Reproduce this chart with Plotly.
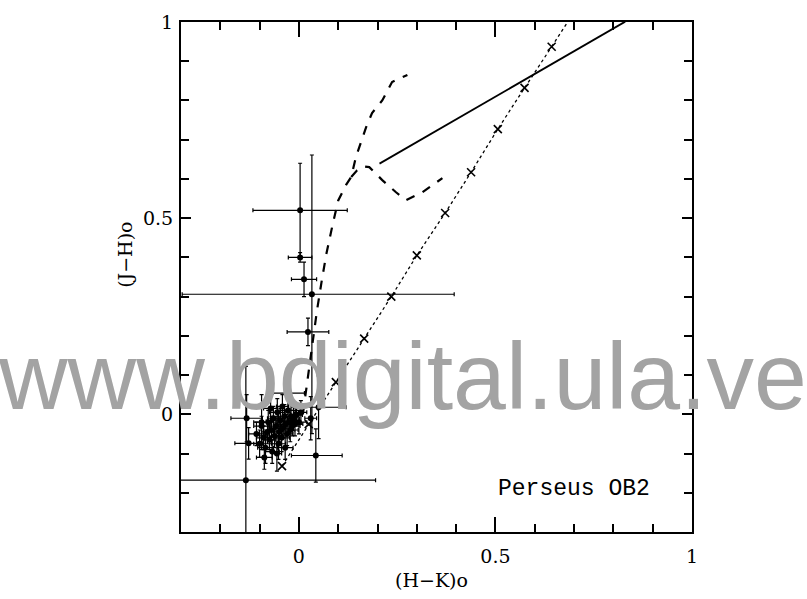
import plotly.graph_objects as go

# --- Stars with photometric errors: (H-K)o, (J-H)o and asymmetric error bars ---
hk = [0.003, 0.003, 0.013, 0.033, 0.023, -0.026, -0.135, -0.133, -0.128, 0.050, 0.043,
      -0.108, -0.100, -0.095, -0.090, -0.085, -0.080, -0.078, -0.075, -0.070, -0.068,
      -0.065, -0.062, -0.058, -0.055, -0.052, -0.050, -0.047, -0.044, -0.042, -0.040,
      -0.037, -0.035, -0.033, -0.030, -0.028, -0.025, -0.022, -0.020, -0.017, -0.014,
      -0.010, -0.006, 0.000, -0.056, 0.030, -0.095, 0.005, -0.088, -0.072]
jh = [0.520, 0.400, 0.344, 0.306, 0.210, 0.054, -0.168, -0.010, -0.074, 0.018, -0.105,
      -0.050, -0.075, -0.030, -0.060, -0.085, -0.045, -0.020, -0.065, -0.040, -0.095,
      -0.010, -0.055, -0.030, 0.005, -0.075, -0.045, -0.015, -0.060, 0.020, -0.035,
      -0.005, -0.085, -0.025, -0.050, 0.010, -0.020, -0.040, -0.005, -0.030, -0.012,
      -0.025, -0.002, -0.020, -0.100, -0.010, -0.020, 0.005, -0.110, 0.015]
hk_err_minus = [0.120, 0.030, 0.032, 0.330, 0.053, 0.040, 0.200, 0.040, 0.035, 0.060, 0.062,
                0.020, 0.015, 0.020, 0.018, 0.020, 0.015, 0.020, 0.015, 0.020, 0.018,
                0.015, 0.020, 0.015, 0.020, 0.018, 0.015, 0.020, 0.020, 0.015, 0.020,
                0.015, 0.020, 0.020, 0.015, 0.020, 0.015, 0.020, 0.015, 0.020, 0.015,
                0.020, 0.015, 0.020, 0.012, 0.015, 0.020, 0.015, 0.020, 0.018]
hk_err_plus = [0.120, 0.030, 0.032, 0.362, 0.053, 0.040, 0.330, 0.040, 0.035, 0.070, 0.067,
               0.020, 0.015, 0.020, 0.018, 0.020, 0.015, 0.020, 0.015, 0.020, 0.018,
               0.015, 0.020, 0.015, 0.020, 0.018, 0.015, 0.020, 0.020, 0.015, 0.020,
               0.015, 0.020, 0.020, 0.015, 0.020, 0.015, 0.020, 0.015, 0.020, 0.015,
               0.020, 0.015, 0.020, 0.012, 0.015, 0.020, 0.015, 0.020, 0.018]
jh_err = [0.120, 0.012, 0.044, 0.355, 0.035, 0.040, 0.290, 0.060, 0.040, 0.080, 0.068,
          0.030, 0.035, 0.025, 0.030, 0.040, 0.030, 0.030, 0.025, 0.035, 0.030,
          0.030, 0.030, 0.025, 0.035, 0.040, 0.025, 0.030, 0.035, 0.030, 0.025,
          0.030, 0.030, 0.025, 0.030, 0.035, 0.025, 0.030, 0.030, 0.025, 0.030,
          0.030, 0.025, 0.030, 0.045, 0.055, 0.070, 0.030, 0.030, 0.035]

# --- Dwarf / giant intrinsic loci (dashed) ---
giant_hk = [0.010, 0.018, 0.026, 0.035, 0.046, 0.058, 0.070, 0.085, 0.100, 0.120, 0.133,
            0.145, 0.171, 0.186, 0.212, 0.237, 0.260, 0.276]
giant_jh = [0.000, 0.060, 0.120, 0.190, 0.265, 0.340, 0.410, 0.480, 0.545, 0.585, 0.605,
            0.656, 0.732, 0.768, 0.800, 0.847, 0.858, 0.865]
dwarf_hk = [0.133, 0.148, 0.165, 0.179, 0.212, 0.247, 0.273, 0.314, 0.365]
dwarf_jh = [0.605, 0.622, 0.632, 0.630, 0.597, 0.566, 0.546, 0.566, 0.602]

# --- Classical T Tauri locus (solid) ---
ctts_hk = [0.205, 0.830]
ctts_jh = [0.639, 1.001]

# --- Reddening vector with 1-mag steps (dotted, crosses) ---
red_hk = [-0.043, 0.025, 0.094, 0.166, 0.235, 0.300, 0.372, 0.438, 0.506, 0.574, 0.643]
red_jh = [-0.132, -0.025, 0.082, 0.193, 0.300, 0.405, 0.513, 0.617, 0.727, 0.832, 0.937]
red_end_hk = [0.643, 0.690]
red_end_jh = [0.937, 1.010]

FONT = "DejaVu Serif"

fig = go.Figure()

fig.add_trace(go.Scatter(
    x=giant_hk, y=giant_jh, mode="lines",
    line=dict(color="black", width=2.2, dash="dash"), hoverinfo="skip"))
fig.add_trace(go.Scatter(
    x=dwarf_hk, y=dwarf_jh, mode="lines",
    line=dict(color="black", width=2.2, dash="dash"), hoverinfo="skip"))
fig.add_trace(go.Scatter(
    x=ctts_hk, y=ctts_jh, mode="lines",
    line=dict(color="black", width=1.8), hoverinfo="skip"))
fig.add_trace(go.Scatter(
    x=red_end_hk, y=red_end_jh, mode="lines",
    line=dict(color="black", width=1.3, dash="dot"), hoverinfo="skip"))
fig.add_trace(go.Scatter(
    x=red_hk, y=red_jh, mode="lines+markers",
    line=dict(color="black", width=1.3, dash="dot"),
    marker=dict(symbol="x-thin", size=8, line=dict(color="black", width=1.6)),
    hoverinfo="skip"))

fig.add_trace(go.Scatter(
    x=hk, y=jh, mode="markers",
    marker=dict(symbol="circle", size=6, color="black"),
    error_x=dict(type="data", symmetric=False, array=hk_err_plus, arrayminus=hk_err_minus,
                 color="black", thickness=1.2, width=2),
    error_y=dict(type="data", array=jh_err, color="black", thickness=1.2, width=2),
    hoverinfo="skip"))

axis_common = dict(
    showgrid=False, zeroline=False, showline=True, linecolor="black", linewidth=2,
    mirror="ticks", ticks="inside", tickcolor="black", tickwidth=1.5,
    tickfont=dict(family=FONT, size=19, color="black"),
)

fig.update_xaxes(
    range=[-0.3, 1.0], tickvals=[0, 0.5, 1], ticktext=["0", "0.5", "1"], ticklen=15,
    ticklabelstandoff=6,
    minor=dict(ticks="inside", ticklen=8, dtick=0.1, tick0=0, tickcolor="black", tickwidth=1.5),
    **axis_common)
fig.update_yaxes(
    range=[-0.3, 1.0], tickvals=[0, 0.5, 1], ticktext=["0", "0.5", "1"], ticklen=10,
    ticklabelstandoff=2,
    minor=dict(ticks="inside", ticklen=8, dtick=0.1, tick0=0, tickcolor="black", tickwidth=1.5),
    **axis_common)

fig.add_annotation(text="(H−K)o", xref="paper", yref="paper", x=0.491, y=-0.094,
                   xanchor="center", yanchor="middle", showarrow=False,
                   font=dict(family=FONT, size=19, color="black"))
fig.add_annotation(text="(J−H)o", xref="paper", yref="paper", x=-0.110, y=0.543,
                   xanchor="center", yanchor="middle", textangle=-90, showarrow=False,
                   font=dict(family=FONT, size=19, color="black"))
fig.add_annotation(text="Perseus OB2", xref="x", yref="y", x=0.70, y=-0.19,
                   xanchor="center", yanchor="middle", showarrow=False,
                   font=dict(family="Liberation Mono", size=23, color="black"))
fig.add_annotation(text="www.bdigital.ula.ve", xref="paper", yref="paper",
                   x=0.434, y=0.198, xanchor="center", yanchor="bottom", showarrow=False,
                   font=dict(family="Liberation Sans", size=95, color="#a3a3a3"))

fig.update_layout(
    width=807, height=599, showlegend=False,
    margin=dict(l=181, r=115, t=22, b=67),
    paper_bgcolor="white", plot_bgcolor="white",
)

fig.write_html("out.html")
